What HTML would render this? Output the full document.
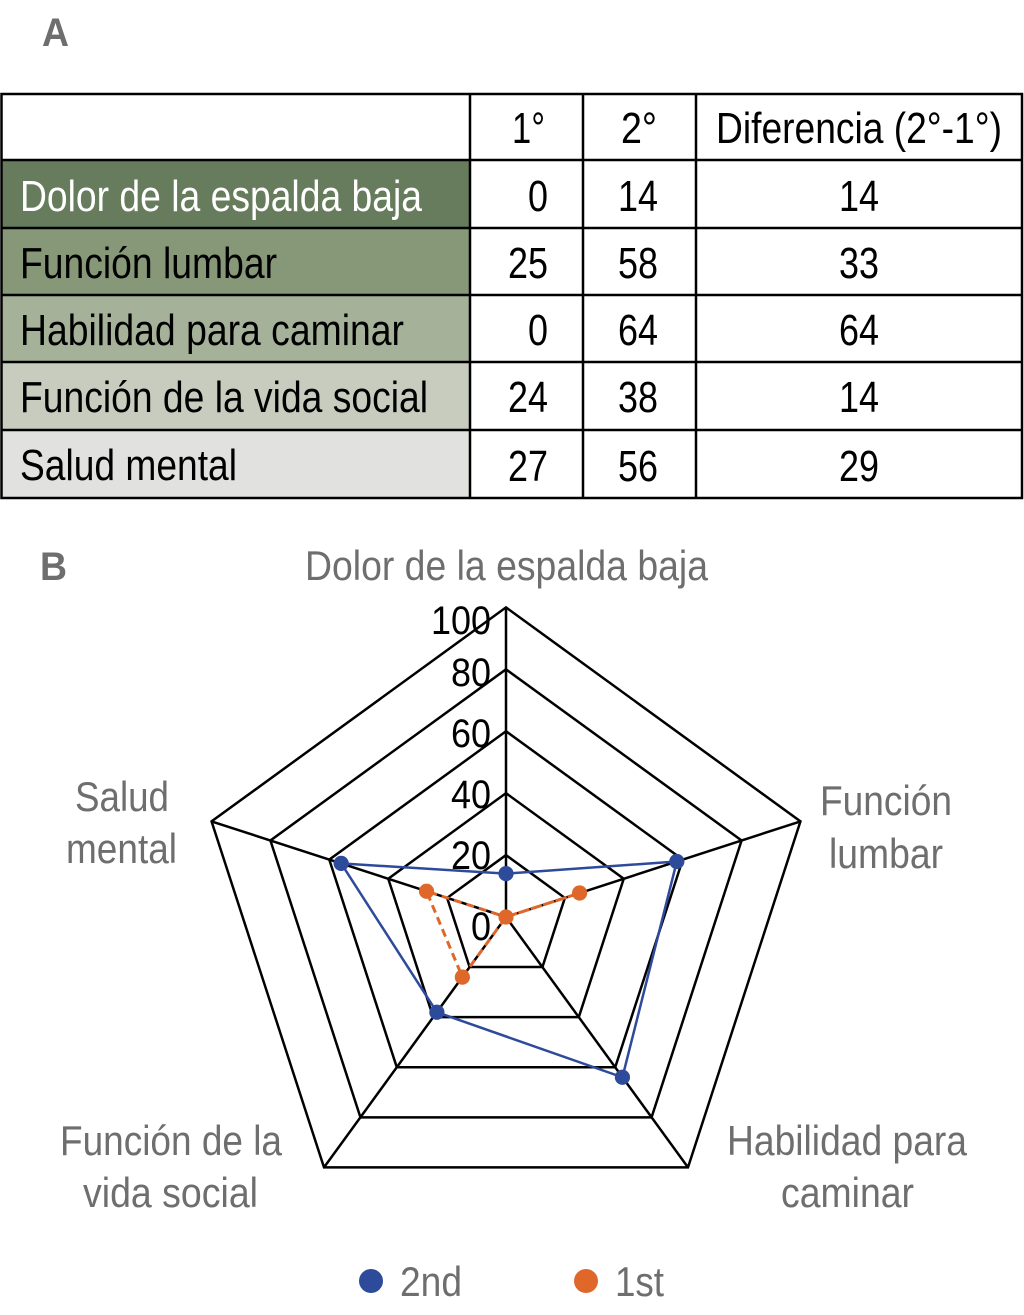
<!DOCTYPE html>
<html><head><meta charset="utf-8"><style>
html,body{margin:0;padding:0;background:#fff}
svg{display:block}
text{font-family:"Liberation Sans",sans-serif}
</style></head><body>
<svg width="1024" height="1315" viewBox="0 0 1024 1315" xmlns="http://www.w3.org/2000/svg">
<text x="42" y="46" font-size="40" font-weight="bold" fill="#6e6e6e" textLength="27" lengthAdjust="spacingAndGlyphs">A</text>
<!-- table -->
<rect x="2" y="160" width="468" height="68" fill="#667c5c"/>
<rect x="2" y="228" width="468" height="67" fill="#879879"/>
<rect x="2" y="295" width="468" height="67" fill="#a6b199"/>
<rect x="2" y="362" width="468" height="68" fill="#c7ccbe"/>
<rect x="2" y="430" width="468" height="68" fill="#e1e2df"/>
<g stroke="#000" stroke-width="2.5" fill="none">
<rect x="1.5" y="94" width="1020.5" height="404"/>
<line x1="1" y1="160" x2="1022" y2="160"/>
<line x1="1" y1="228" x2="1022" y2="228"/>
<line x1="1" y1="295" x2="1022" y2="295"/>
<line x1="1" y1="362" x2="1022" y2="362"/>
<line x1="1" y1="430" x2="1022" y2="430"/>
<line x1="470" y1="94" x2="470" y2="498"/>
<line x1="583" y1="94" x2="583" y2="498"/>
<line x1="696" y1="94" x2="696" y2="498"/>
</g>
<g font-size="44" fill="#000">
<text x="512" y="143" textLength="33" lengthAdjust="spacingAndGlyphs">1°</text>
<text x="621" y="143" textLength="36" lengthAdjust="spacingAndGlyphs">2°</text>
<text x="716" y="143" textLength="286" lengthAdjust="spacingAndGlyphs">Diferencia (2°-1°)</text>
<text x="20" y="211" fill="#fff" textLength="402" lengthAdjust="spacingAndGlyphs">Dolor de la espalda baja</text>
<text x="20" y="278" textLength="257" lengthAdjust="spacingAndGlyphs">Función lumbar</text>
<text x="20" y="345" textLength="384" lengthAdjust="spacingAndGlyphs">Habilidad para caminar</text>
<text x="20" y="412" textLength="408" lengthAdjust="spacingAndGlyphs">Función de la vida social</text>
<text x="20" y="480" textLength="217" lengthAdjust="spacingAndGlyphs">Salud mental</text>
<g text-anchor="end">
<text x="548" y="211" textLength="20" lengthAdjust="spacingAndGlyphs">0</text>
<text x="548" y="278" textLength="40" lengthAdjust="spacingAndGlyphs">25</text>
<text x="548" y="345" textLength="20" lengthAdjust="spacingAndGlyphs">0</text>
<text x="548" y="412" textLength="40" lengthAdjust="spacingAndGlyphs">24</text>
<text x="548" y="481" textLength="40" lengthAdjust="spacingAndGlyphs">27</text>
<text x="658" y="211" textLength="40" lengthAdjust="spacingAndGlyphs">14</text>
<text x="658" y="278" textLength="40" lengthAdjust="spacingAndGlyphs">58</text>
<text x="658" y="345" textLength="40" lengthAdjust="spacingAndGlyphs">64</text>
<text x="658" y="412" textLength="40" lengthAdjust="spacingAndGlyphs">38</text>
<text x="658" y="481" textLength="40" lengthAdjust="spacingAndGlyphs">56</text>
<text x="879" y="211" textLength="40" lengthAdjust="spacingAndGlyphs">14</text>
<text x="879" y="278" textLength="40" lengthAdjust="spacingAndGlyphs">33</text>
<text x="879" y="345" textLength="40" lengthAdjust="spacingAndGlyphs">64</text>
<text x="879" y="412" textLength="40" lengthAdjust="spacingAndGlyphs">14</text>
<text x="879" y="481" textLength="40" lengthAdjust="spacingAndGlyphs">29</text>
</g>
</g>
<text x="40" y="580" font-size="40" font-weight="bold" fill="#6e6e6e" textLength="27" lengthAdjust="spacingAndGlyphs">B</text>
<!-- radar -->
<g transform="translate(506,917) scale(1.015)">
<g stroke="#000" stroke-width="2.5" fill="none" stroke-linejoin="miter">
<polygon vector-effect="non-scaling-stroke" points="0,-305 290.1,-94.2 179.3,246.7 -179.3,246.7 -290.1,-94.2"/>
<polygon vector-effect="non-scaling-stroke" points="0,-244 232.1,-75.4 143.4,197.4 -143.4,197.4 -232.1,-75.4"/>
<polygon vector-effect="non-scaling-stroke" points="0,-183 174.1,-56.5 107.6,148 -107.6,148 -174.1,-56.5"/>
<polygon vector-effect="non-scaling-stroke" points="0,-122 116,-37.7 71.7,98.7 -71.7,98.7 -116,-37.7"/>
<polygon vector-effect="non-scaling-stroke" points="0,-61 58,-18.8 35.9,49.3 -35.9,49.3 -58,-18.8"/>
<line vector-effect="non-scaling-stroke" x1="0" y1="0" x2="0" y2="-305"/>
<line vector-effect="non-scaling-stroke" x1="0" y1="0" x2="290.1" y2="-94.2"/>
<line vector-effect="non-scaling-stroke" x1="0" y1="0" x2="179.3" y2="246.7"/>
<line vector-effect="non-scaling-stroke" x1="0" y1="0" x2="-179.3" y2="246.7"/>
<line vector-effect="non-scaling-stroke" x1="0" y1="0" x2="-290.1" y2="-94.2"/>
</g>
<polygon vector-effect="non-scaling-stroke" points="0,-42.7 168.3,-54.7 114.7,157.9 -68.1,93.8 -162.4,-52.8" fill="none" stroke="#2e4a9a" stroke-width="2.5"/>
<polygon vector-effect="non-scaling-stroke" points="0,0 72.5,-23.6 0,0 -43,59.2 -78.3,-25.4" fill="none" stroke="#e0672a" stroke-width="3" stroke-dasharray="8,5"/>
<g fill="#2e4a9a">
<circle cx="0" cy="-42.7" r="7.5"/><circle cx="168.3" cy="-54.7" r="7.5"/><circle cx="114.7" cy="157.9" r="7.5"/><circle cx="-68.1" cy="93.8" r="7.5"/><circle cx="-162.4" cy="-52.8" r="7.5"/>
</g>
<g fill="#e0672a">
<circle cx="0" cy="0" r="7.5"/><circle cx="72.5" cy="-23.6" r="7.5"/><circle cx="-43" cy="59.2" r="7.5"/><circle cx="-78.3" cy="-25.4" r="7.5"/>
</g>
</g>
<g font-size="40" fill="#000" text-anchor="end">
<text x="491" y="634" textLength="60" lengthAdjust="spacingAndGlyphs">100</text>
<text x="491" y="686" textLength="40" lengthAdjust="spacingAndGlyphs">80</text>
<text x="491" y="747" textLength="40" lengthAdjust="spacingAndGlyphs">60</text>
<text x="491" y="808" textLength="40" lengthAdjust="spacingAndGlyphs">40</text>
<text x="491" y="869" textLength="40" lengthAdjust="spacingAndGlyphs">20</text>
<text x="491" y="940" textLength="20" lengthAdjust="spacingAndGlyphs">0</text>
</g>
<g font-size="42" fill="#6e6e6e">
<text x="305" y="580" textLength="403" lengthAdjust="spacingAndGlyphs">Dolor de la espalda baja</text>
<text x="820" y="815" textLength="132" lengthAdjust="spacingAndGlyphs">Función</text>
<text x="829" y="868" textLength="114" lengthAdjust="spacingAndGlyphs">lumbar</text>
<text x="75" y="811" textLength="94" lengthAdjust="spacingAndGlyphs">Salud</text>
<text x="66" y="863" textLength="111" lengthAdjust="spacingAndGlyphs">mental</text>
<text x="60" y="1155" textLength="222" lengthAdjust="spacingAndGlyphs">Función de la</text>
<text x="83" y="1207" textLength="175" lengthAdjust="spacingAndGlyphs">vida social</text>
<text x="727" y="1155" textLength="240" lengthAdjust="spacingAndGlyphs">Habilidad para</text>
<text x="781" y="1207" textLength="133" lengthAdjust="spacingAndGlyphs">caminar</text>
<text x="400" y="1296" textLength="62" lengthAdjust="spacingAndGlyphs">2nd</text>
<text x="615" y="1296" textLength="49" lengthAdjust="spacingAndGlyphs">1st</text>
</g>
<circle cx="371" cy="1281" r="12" fill="#2e4a9a"/>
<circle cx="586" cy="1281" r="12" fill="#e0672a"/>
</svg>
</body></html>
